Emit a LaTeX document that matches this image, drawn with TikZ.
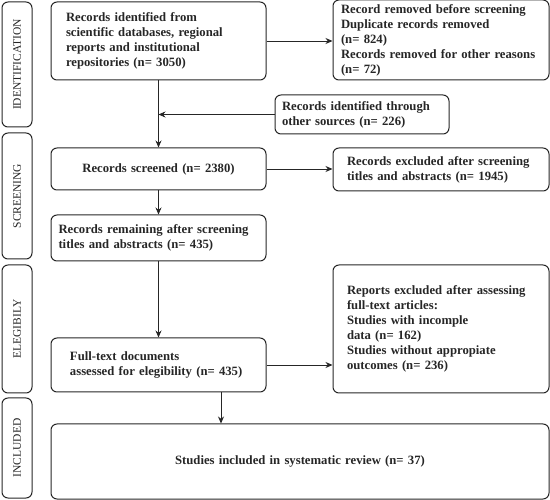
\documentclass[tikz,border=0pt]{standalone}
\usepackage{fontspec}
\setmainfont{Liberation Serif}
\usetikzlibrary{positioning, arrows.meta}

\begin{document}
\begin{tikzpicture}[x=1pt, y=-1pt,
    box/.style={draw=black!85, line width=1pt, rounded corners=6pt, inner ysep=0pt,
        font=\fontsize{12.7}{15}\selectfont\bfseries, text=black!85},
    phase/.style={draw=black!85, line width=1pt, rounded corners=6pt, rotate=90,
        minimum height=30pt, inner sep=0pt, font=\fontsize{11.5}{14}\selectfont, text=black!85},
    arr/.style={-{Stealth[length=7pt,width=6pt]}, line width=0.9pt, black!85}]
    \useasboundingbox (0,0) rectangle (550,500);

    % phases on the left
    \node[phase, minimum width=125pt] (pid) at (17,64.5) {IDENTIFICATION};
    \node[phase, minimum width=126pt] (psc) at (17,196) {SCREENING};
    \node[phase, minimum width=128pt] (pel) at (17,329) {ELEGIBILY};
    \node[phase, minimum width=100pt] (pin) at (17,448) {INCLUDED};

    % main column
    \node[box, minimum height=78pt, inner xsep=15pt, text width=185pt, align=left] (ident) at (158.5,41)
        {Records identified from\\ scientific databases, regional\\ reports and institutional\\ repositories (n= 3050)};
    \node[box, minimum height=42pt, inner xsep=7.5pt, text width=200pt, align=center] (screened) at (158.5,169)
        {Records screened (n= 2380)};
    \node[box, minimum height=46pt, inner xsep=7.5pt, text width=200pt, align=left] (remain) at (158.5,238)
        {Records remaining after screening\\ titles and abstracts (n= 435)};
    \node[box, minimum height=54pt, inner xsep=19pt, text width=177pt, align=left] (fulltext) at (158.5,365)
        {Full-text documents\\ assessed for elegibility (n= 435)};
    \node[box, minimum height=75pt, inner xsep=5pt, text width=488pt, align=center] (included) at (300,461.5)
        {Studies included in systematic review (n= 37)};

    % side boxes
    \node[box, minimum height=80pt, inner xsep=8pt, text width=200pt, align=left] (removed) at (441,40)
        {Record removed before screening\\ Duplicate records removed\\ (n= 824)\\ Records removed for other reasons\\ (n= 72)};
    \node[box, minimum height=39pt, inner xsep=7pt, text width=160pt, align=left] (other) at (362,114.5)
        {Records identified through\\ other sources (n= 226)};
    \node[box, minimum height=43pt, inner xsep=14pt, text width=188pt, align=left] (excluded) at (441,169.5)
        {Records excluded after screening\\ titles and abstracts (n= 1945)};
    \node[box, minimum height=128pt, inner xsep=14pt, text width=188pt, align=left] (reports) at (441,329)
        {Reports excluded after assessing\\ full-text articles:\\ Studies with incomple\\ data (n= 162)\\ Studies without appropiate\\ outcomes (n= 236)\\[8pt]};

    % connectors
    \coordinate (join) at (ident.south |- other.west);
    \coordinate (split) at ([xshift=62.5pt]fulltext.south);
    \draw[arr] (ident.east) -- (ident.east -| removed.west);
    \draw[arr] (other.west) -- (join);
    \draw[arr] (ident) -- (screened);
    \draw[arr] (screened.east) -- (screened.east -| excluded.west);
    \draw[arr] (screened) -- (remain);
    \draw[arr] (remain) -- (fulltext);
    \draw[arr] (fulltext.east) -- (fulltext.east -| reports.west);
    \draw[arr] (split) -- (split |- included.north);
\end{tikzpicture}
\end{document}
